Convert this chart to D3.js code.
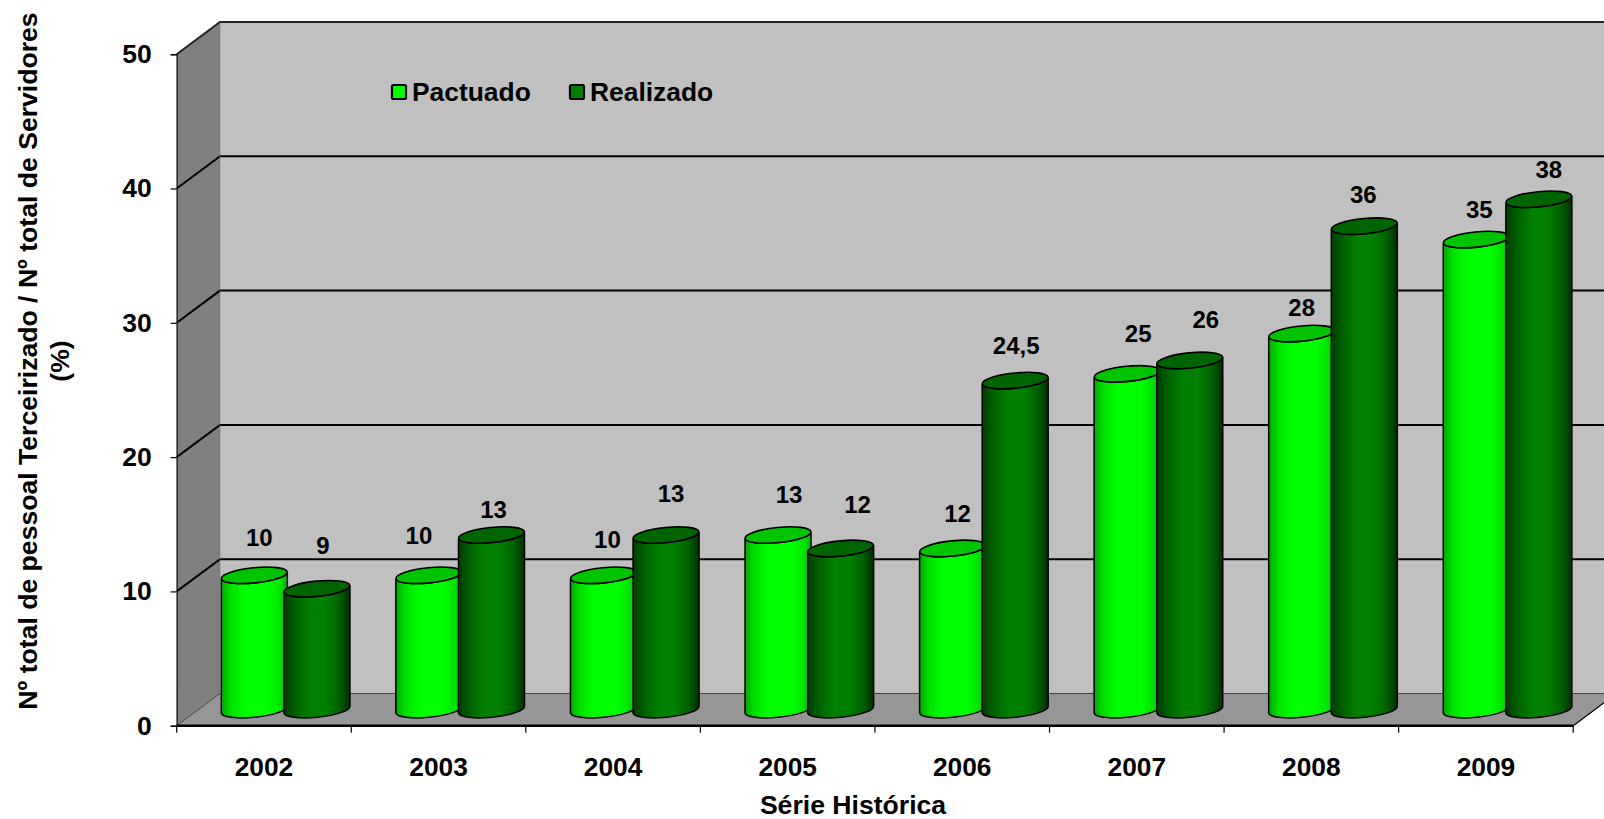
<!DOCTYPE html>
<html lang="pt">
<head>
<meta charset="utf-8">
<title>Série Histórica</title>
<script src="https://cdn.jsdelivr.net/npm/d3@7/dist/d3.min.js"></script>
<style>
  html, body { margin: 0; padding: 0; background: #fff; overflow: hidden; }
  svg { display: block; }
  text { font-family: "Liberation Sans", Arial, sans-serif; font-weight: bold; fill: #000; }
</style>
</head>
<body>
<svg id="chart" width="1604" height="819"></svg>
<script>
// Chart data
const years = ["2002", "2003", "2004", "2005", "2006", "2007", "2008", "2009"];
const pactuado = [10, 10, 10, 13, 12, 25, 28, 35];
const realizado = [9, 13, 13, 12, 24.5, 26, 36, 38];
const seriesNames = ["Pactuado", "Realizado"];
const valueTicks = [0, 10, 20, 30, 40, 50];

// Hand-placed data labels: shift from the centre of each cylinder's top
const pactuadoNudge = [[5,-38],[-10,-40],[4,-36],[11,-41],[5,-35],[11,-40],[0,-26],[3,-30]];
const realizadoNudge = [[6,-43],[2,-26],[5,-42],[17,-44],[1,-35],[16,-41],[-1,-32],[10,-30]];

const svg = d3.select("#chart");

// Front plane of the 3D box and the depth vector to its back wall
const x = d3.scaleBand().domain(years).range([176.7, 1573.2]);
const y = d3.scaleLinear().domain([0, 50]).range([725.7, 54.2]);
const depth = { x: 43.3, y: -32.2 };
const plotRight = x.range()[1];

// Cylinder geometry
const rx = 33, ry = 7.6, tiltDeg = -5.7, spacing = 62.6;
const tiltRise = 3.3;
const midX = d => x(d) + x.bandwidth() / 2 + depth.x / 2;
const midY = v => y(v) + depth.y / 2;

// Gradients for the cylinder bodies
const defs = svg.append("defs");
const gradients = [
  { id: "bodyPactuado", stops: [[0, "#00a800"], [0.14, "#00e000"], [0.36, "#00ff00"], [0.72, "#00ff00"], [0.9, "#00e000"], [1, "#00b000"]] },
  { id: "bodyRealizado", stops: [[0, "#003c00"], [0.2, "#006600"], [0.4, "#008000"], [0.62, "#008000"], [0.82, "#006400"], [1, "#003000"]] }
];
gradients.forEach(g => {
  defs.append("linearGradient").attr("id", g.id)
    .selectAll("stop").data(g.stops).join("stop")
    .attr("offset", d => d[0]).attr("stop-color", d => d[1]);
});

// Walls and floor
const wallPoints = {
  side: [[x.range()[0], y(50)], [x.range()[0] + depth.x, y(50) + depth.y], [x.range()[0] + depth.x, y(0) + depth.y], [x.range()[0], y(0)]],
  back: [[x.range()[0] + depth.x, y(50) + depth.y], [plotRight + depth.x, y(50) + depth.y], [plotRight + depth.x, y(0) + depth.y], [x.range()[0] + depth.x, y(0) + depth.y]],
  floor: [[x.range()[0], y(0)], [x.range()[0] + depth.x, y(0) + depth.y], [plotRight + depth.x, y(0) + depth.y], [plotRight, y(0)]]
};
const walls = svg.append("g");
walls.append("polygon").attr("points", wallPoints.back.join(" ")).attr("fill", "#c0c0c0");
walls.append("polygon").attr("points", wallPoints.side.join(" ")).attr("fill", "#808080");
walls.append("polygon").attr("points", wallPoints.floor.join(" ")).attr("fill", "#969696");

// Gridlines running along the side wall and back wall
const grid = svg.append("g").attr("fill", "none").attr("stroke", "#000");
grid.selectAll("path").data(valueTicks).join("path")
  .attr("stroke-width", d => d === 0 ? 1 : 2)
  .attr("stroke", d => d === 0 ? "#444" : d === 50 ? "#222" : "#000")
  .attr("d", d => `M${x.range()[0]},${y(d)}L${x.range()[0] + depth.x},${y(d) + depth.y}L${plotRight + depth.x},${y(d) + depth.y}`);
grid.append("line")
  .attr("x1", plotRight).attr("y1", y(0))
  .attr("x2", plotRight + depth.x).attr("y2", y(0) + depth.y)
  .attr("stroke-width", 1.2);
grid.append("line")
  .attr("x1", x.range()[0] + depth.x).attr("y1", y(50) + depth.y)
  .attr("x2", x.range()[0] + depth.x).attr("y2", y(0) + depth.y)
  .attr("stroke", "#777").attr("stroke-width", 0.6);

// Axes
const yAxis = d3.axisLeft(y).tickValues(valueTicks).tickSize(6).tickPadding(19);
const yAxisG = svg.append("g").attr("transform", `translate(${x.range()[0]},0)`).call(yAxis);
yAxisG.select(".domain").attr("stroke-width", 1.4).attr("stroke", "#222");
yAxisG.selectAll("line").attr("stroke-width", 1.2);
yAxisG.selectAll("text").attr("font-size", 26.5).style("font-family", '"Liberation Sans", Arial, sans-serif').style("font-weight", "bold");

const xAxis = d3.axisBottom(x).tickSize(0).tickPadding(32);
const xAxisG = svg.append("g").attr("transform", `translate(0,${y(0)})`).call(xAxis);
xAxisG.select(".domain").attr("stroke-width", 2.4).attr("d", `M${x.range()[0]},0H${plotRight}`);
xAxisG.selectAll("text").attr("font-size", 26.3).style("font-family", '"Liberation Sans", Arial, sans-serif').style("font-weight", "bold");

// Tick marks sit on the category boundaries, not their centres
xAxisG.selectAll(".boundary").data([...years.map(d => x(d)), plotRight]).join("line")
  .attr("class", "boundary").attr("stroke", "#000").attr("stroke-width", 1.2)
  .attr("x1", d => d).attr("x2", d => d).attr("y1", 0).attr("y2", 7);

// Cylinders: Pactuado first so Realizado overlaps it
function drawSeries(values, name, centerShift, bodyId, topFill) {
  const g = svg.append("g").attr("class", "series-" + name);
  const bars = g.selectAll("g").data(values.map((v, i) => ({ v, year: years[i] }))).join("g");
  bars.append("path")
    .attr("fill", `url(#${bodyId})`)
    .attr("stroke", "#000").attr("stroke-width", 1.5)
    .attr("d", d => {
      const cx = midX(d.year) + centerShift;
      const top = midY(d.v), base = midY(0);
      return `M${cx - rx},${top + tiltRise}` +
             `L${cx - rx},${base + tiltRise}` +
             `A${rx},${ry} ${tiltDeg} 0 0 ${cx + rx},${base - tiltRise}` +
             `L${cx + rx},${top - tiltRise}` +
             `A${rx},${ry} ${tiltDeg} 0 1 ${cx - rx},${top + tiltRise}Z`;
    });
  bars.append("ellipse")
    .attr("rx", rx).attr("ry", ry)
    .attr("transform", d => `translate(${midX(d.year) + centerShift},${midY(d.v)}) rotate(${tiltDeg})`)
    .attr("fill", topFill).attr("stroke", "#000").attr("stroke-width", 1.6);
}
drawSeries(pactuado, "pactuado", -spacing / 2, "bodyPactuado", "#00c400");
drawSeries(realizado, "realizado", spacing / 2, "bodyRealizado", "#006400");

// Value labels, written with a decimal comma
const fmt = v => String(v).replace(".", ",");
function drawLabels(values, nudges, centerShift) {
  svg.append("g").selectAll("text").data(values).join("text")
    .attr("font-size", 24).attr("text-anchor", "middle").attr("dominant-baseline", "central")
    .attr("x", (v, i) => midX(years[i]) + centerShift + nudges[i][0])
    .attr("y", (v, i) => midY(v) + nudges[i][1])
    .text(fmt);
}
drawLabels(pactuado, pactuadoNudge, -spacing / 2);
drawLabels(realizado, realizadoNudge, spacing / 2);

// Legend on the back wall
const legendFills = ["#00ff00", "#008000"];
const legendX = d3.scalePoint().domain(seriesNames).range([392, 570]);
const legend = svg.append("g").selectAll("g").data(seriesNames).join("g")
  .attr("transform", d => `translate(${legendX(d)},85)`);
legend.append("rect").attr("width", 14).attr("height", 14).attr("rx", 1.5)
  .attr("fill", (d, i) => legendFills[i]).attr("stroke", "#000").attr("stroke-width", 2.2);
legend.append("text").attr("x", 20).attr("y", 7).attr("dominant-baseline", "central")
  .attr("font-size", 26.4).text(d => d);

// Axis titles
svg.append("text").attr("x", 853).attr("y", 805).attr("text-anchor", "middle")
  .attr("dominant-baseline", "central").attr("font-size", 26.6).text("Série Histórica");
const yTitle = svg.append("text").attr("text-anchor", "middle").attr("font-size", 26.6)
  .attr("transform", "translate(28,361) rotate(-90)");
yTitle.append("tspan").attr("x", 0).attr("dy", 0).attr("dominant-baseline", "central")
  .text("Nº total de pessoal Terceirizado / Nº total de Servidores");
yTitle.append("tspan").attr("x", 0).attr("dy", 32).attr("dominant-baseline", "central").text("(%)");
</script>
</body>
</html>
